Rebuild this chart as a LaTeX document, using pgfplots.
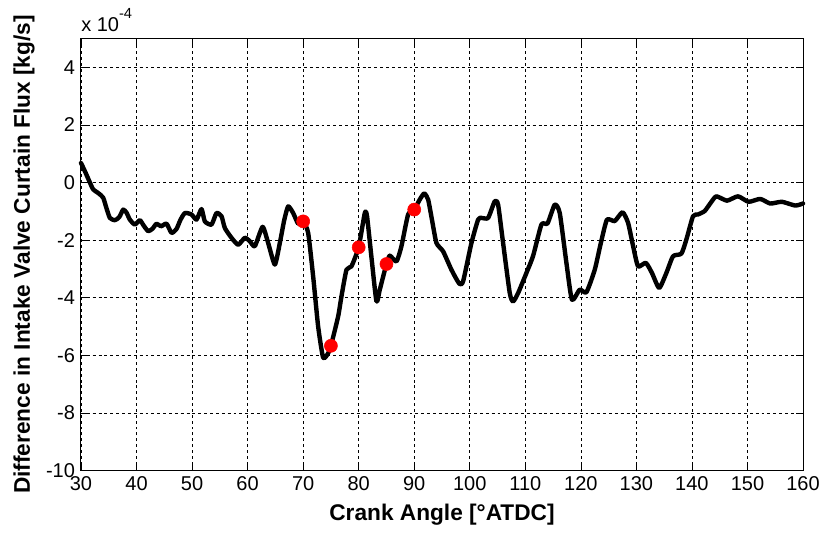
\documentclass[border=0pt]{standalone}
\usepackage{fontspec}
\setmainfont{Liberation Sans}
\usepackage{pgfplots}
\pgfplotsset{compat=1.18}

% intake valve curtain flux difference, units of 1e-4 kg/s
\pgfplotstableread{
x y
30 0.68
30.8 0.35
31.6 0.0
32.2 -0.24
33.2 -0.38
34.0 -0.53
34.6 -0.9
35.2 -1.23
36.1 -1.31
36.9 -1.2
37.6 -0.94
38.2 -1.05
38.8 -1.29
39.7 -1.46
40.6 -1.31
41.3 -1.5
42.1 -1.69
42.9 -1.6
43.6 -1.43
44.4 -1.52
45.4 -1.43
46.3 -1.75
47.2 -1.61
47.9 -1.3
48.7 -1.06
49.9 -1.11
50.8 -1.29
51.7 -0.92
52.3 -1.35
53.5 -1.46
54.4 -1.06
55.3 -1.17
55.9 -1.58
57.1 -1.92
58.3 -2.16
59.5 -1.92
60.4 -2.04
61.3 -2.21
62.7 -1.54
63.7 -2.1
64.9 -2.85
65.8 -2.1
66.6 -1.3
67.3 -0.83
68.2 -1.06
69.1 -1.43
70 -1.35
70.9 -1.75
71.8 -3.26
72.7 -5.0
73.6 -6.08
74.5 -5.93
75 -5.67
76.3 -4.65
76.9 -3.95
77.8 -3.03
78.7 -2.91
80 -2.24
81.1 -1.06
81.5 -1.17
82.3 -2.6
83.2 -4.13
83.8 -3.72
85 -2.83
85.6 -2.54
86.8 -2.74
87.7 -2.21
88.9 -1.11
90 -0.94
91.0 -0.59
91.8 -0.38
92.5 -0.59
93.2 -1.3
94.0 -2.1
95.2 -2.39
96.7 -3.03
98.1 -3.51
98.8 -3.43
100.3 -2.1
101.5 -1.29
102.1 -1.23
103.3 -1.23
104.5 -0.65
105.1 -0.77
106.0 -2.1
107.2 -3.84
107.8 -4.13
108.7 -3.84
110.2 -3.14
111.4 -2.55
112.9 -1.46
114.0 -1.42
115.3 -0.77
116.2 -1.06
117.4 -2.79
118.4 -4.07
119.8 -3.72
121.0 -3.81
122.5 -3.03
123.6 -2.1
124.7 -1.29
126.1 -1.34
127.5 -1.03
128.5 -1.4
129.4 -2.2
130.3 -2.91
131.7 -2.79
132.8 -3.14
134.1 -3.66
135.4 -3.14
136.6 -2.56
138.1 -2.47
139.0 -1.98
140.2 -1.17
141.1 -1.11
142.3 -0.99
143.4 -0.7
144.4 -0.48
146.3 -0.63
148.3 -0.48
150.2 -0.67
152.3 -0.57
154.1 -0.73
156.2 -0.67
158.6 -0.8
160 -0.73
}\fluxdiff

% sampled crank angles
\pgfplotstableread{
x y
70 -1.35
75 -5.67
80 -2.25
85 -2.83
90 -0.94
}\samples

\begin{document}
\begin{tikzpicture}[x=1pt,y=1pt]
\begin{axis}[
  at={(0,0)}, anchor=south west,
  scale only axis,
  width=541.5pt, height=324pt,
  xmin=30, xmax=160, ymin=-10, ymax=5,
  xtick={30,40,...,160},
  ytick={-10,-8,...,4},
  tick align=inside,
  major tick length=5pt,
  tick style={black, line width=0.5pt},
  axis line style={black, line width=0.75pt},
  grid=major,
  major grid style={black, line width=0.5pt, dash pattern=on 2.2pt off 2.2pt},
  /pgf/number format/assume math mode=true,
  ticklabel style={font=\fontsize{15}{15}\selectfont},
  xticklabel style={yshift=-1pt},
  yticklabel style={xshift=-1pt},
  xlabel={\bfseries Crank Angle [°ATDC]},
  ylabel={\bfseries Difference in Intake Valve Curtain Flux [kg/s]},
  label style={font=\fontsize{17}{17}\selectfont, inner sep=0pt},
  xlabel style={at={(axis description cs:0.5,0)}, anchor=north, yshift=-25pt},
  ylabel style={at={(axis description cs:0,0.5)}, anchor=center, yshift=42.75pt},
  clip=false,
]
\addplot[black, line width=3.3pt, line join=round, line cap=round, smooth, tension=0.35] table {\fluxdiff};
\addplot[only marks, mark=*, mark size=4.9pt, red, mark options={draw=red, fill=red}] table {\samples};
\node[anchor=base west, inner sep=0pt] at ([yshift=5.25pt]axis description cs:0,1)
  {\fontsize{15}{15}\selectfont x 10\raisebox{10pt}{\fontsize{11}{11}\selectfont -4}};
\end{axis}
\pgfresetboundingbox
\useasboundingbox (-60.75pt,-46.875pt) rectangle (559.5pt,352.875pt);
\end{tikzpicture}
\end{document}
